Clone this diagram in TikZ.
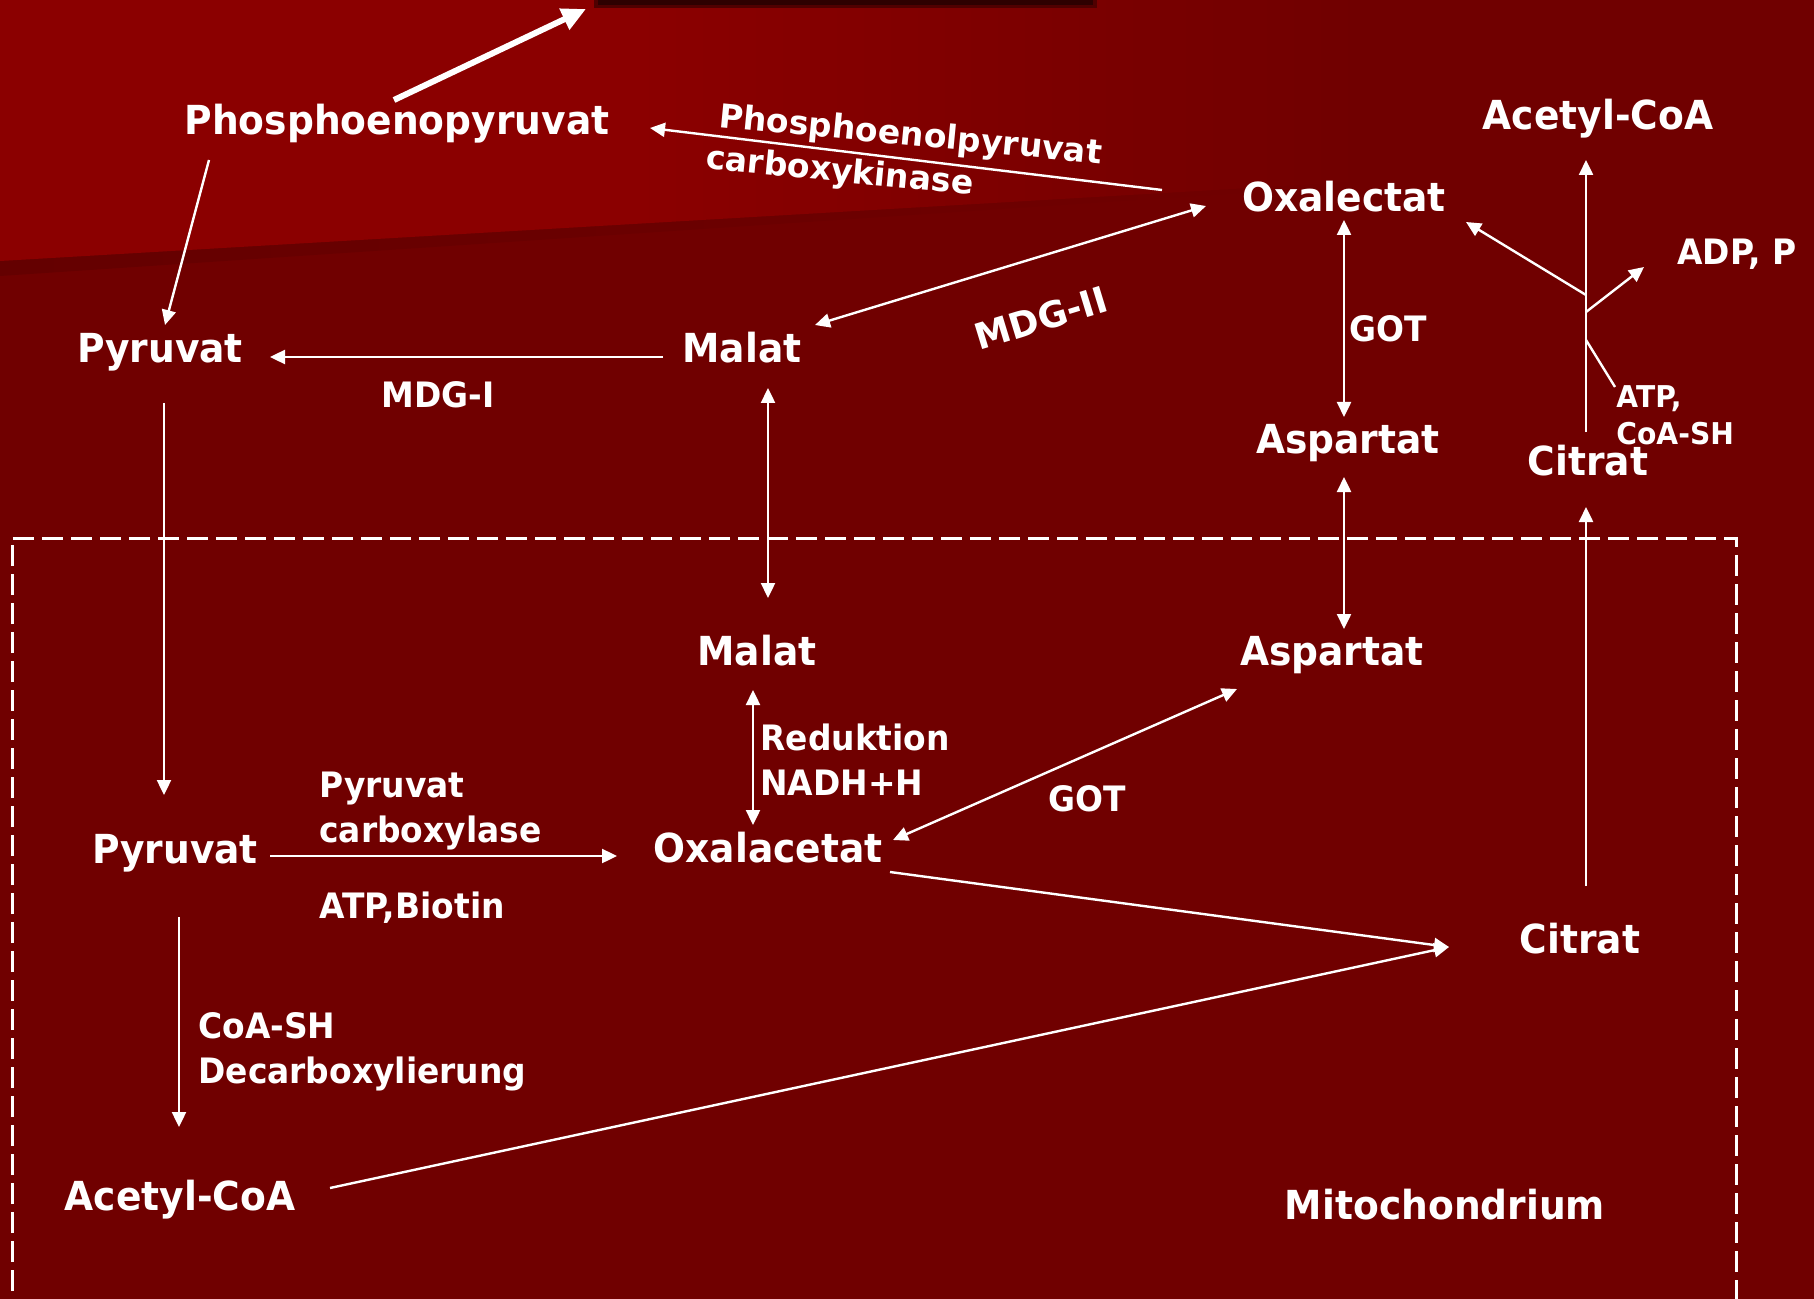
\documentclass[tikz,border=0pt]{standalone}
\usepackage{fontspec}
\newfontfamily\labfont{DejaVu Sans}[FakeStretch=0.94]
\newfontfamily\widefont{DejaVu Sans}
\usetikzlibrary{arrows.meta}

\definecolor{bgred}{RGB}{112,0,0}
\definecolor{hired}{RGB}{139,0,0}
\definecolor{shadowred}{RGB}{100,0,0}
\definecolor{barred}{RGB}{46,0,0}
\definecolor{barsoft}{RGB}{80,0,0}

% lighter wedge in the upper left, fading into the main background
\pgfdeclarehorizontalshading{topfade}{100bp}{color(0bp)=(hired); color(42.5bp)=(hired); color(62.5bp)=(bgred); color(100bp)=(bgred)}

\tikzset{
  species/.style={font=\labfont\bfseries\fontsize{20pt}{22.5pt}\selectfont, text=white, inner sep=0pt, anchor=base},
  enzyme/.style={font=\labfont\bfseries\fontsize{17.5pt}{22.5pt}\selectfont, text=white, inner sep=0pt, anchor=base west},
  cofactor/.style={font=\labfont\bfseries\fontsize{15pt}{18.5pt}\selectfont, text=white, inner sep=0pt, anchor=base west},
  slanted/.style={font=\widefont\bfseries\fontsize{16.5pt}{21.5pt}\selectfont, text=white, inner sep=0pt},
  flow/.style={draw=white, line width=1.2pt, -{Triangle[length=7.5pt,width=7pt]}},
  both/.style={draw=white, line width=1.2pt, {Triangle[length=7.5pt,width=7pt]}-{Triangle[length=7.5pt,width=7pt]}},
  plain/.style={draw=white, line width=1.2pt},
  bold arrow/.style={draw=white, line width=3pt, -{Triangle[length=12pt,width=11pt]}},
  membrane/.style={draw=white, line width=1.5pt, dash pattern=on 10.5pt off 4pt}
}

\begin{document}
\begin{tikzpicture}[x=0.5pt, y=-0.5pt]
\useasboundingbox (0,0) rectangle (1814,1299);

\begin{scope}
  \clip (0,0) rectangle (1814,1299);
  % background
  \fill[bgred] (0,0) rectangle (1814,1299);
  \shade[left color=shadowred, right color=bgred] (0,258) -- (1300,183) -- (1300,189) -- (0,276) -- cycle;
  \shade[shading=topfade] (0,0) -- (1814,0) -- (1814,155) -- (0,261) -- cycle;
  % dark bar at the upper edge
  \fill[barsoft] (594,0) rectangle (1097,8);
  \fill[barred] (598,0) rectangle (1093,5);
  % mitochondrial membrane
  \draw[membrane] (12,1320) -- (12,538) -- (1736,538) -- (1736,1320);
\end{scope}

% ---------------- cytosol ----------------
\node[species] (pep)  at (397,135) {Phosphoenopyruvat};
\node[species] (pyrc) at (160,363) {Pyruvat};
\node[species] (malc) at (742,363) {Malat};
\node[enzyme]  (mdgI) at (381,408) {MDG-I};
\node[species] (oxac) at (1344,212) {Oxalectat};
\node[species] (accc) at (1598,130) {Acetyl-CoA};
\node[enzyme]  (adp) at (1677,265) {ADP, P};
\node[enzyme]  (gotc) at (1349,342) {GOT};
\node[species] (aspc) at (1348,453) {Aspartat};
\node[cofactor] (atpc) at (1616,408) {\begin{tabular}[t]{@{}l@{}}ATP,\\CoA-SH\end{tabular}};
\node[species] (citc) at (1588,475) {Citrat};

\node[slanted, rotate=-5.5, anchor=base west] (pepck) at (718,127)
  {\begin{tabular}[t]{@{}l@{}}Phosphoenolpyruvat\\\hspace*{-4.5pt}carboxykinase\end{tabular}};
\node[slanted, rotate=17, font=\widefont\bfseries\fontsize{18pt}{20pt}\selectfont] (mdgII) at (1041,318) {MDG-II};

% ---------------- mitochondrion ----------------
\node[species] (malm) at (757,665) {Malat};
\node[species] (aspm) at (1332,665) {Aspartat};
\node[enzyme]  (red)  at (760,750) {\begin{tabular}[t]{@{}l@{}}Reduktion\\NADH+H\end{tabular}};
\node[enzyme]  (gotm) at (1048,811) {GOT};
\node[species] (oxam) at (768,862) {Oxalacetat};
\node[species] (pyrm) at (175,863) {Pyruvat};
\node[enzyme]  (pc)   at (319,797) {\begin{tabular}[t]{@{}l@{}}Pyruvat\\carboxylase\end{tabular}};
\node[enzyme]  (atpb) at (319,918) {ATP,Biotin};
\node[enzyme]  (decarb) at (198,1038) {\begin{tabular}[t]{@{}l@{}}CoA-SH\\Decarboxylierung\end{tabular}};
\node[species] (accm) at (180,1210) {Acetyl-CoA};
\node[species] (citm) at (1580,953) {Citrat};
\node[species] (mito) at (1445,1219) {Mitochondrium};

% ---------------- connector end points ----------------
\coordinate (pep-out)   at (394,100);
\coordinate (export)    at (586,9);
\coordinate (pep-s)     at (209,160);
\coordinate (pyrc-n)    at (165,325);
\coordinate (oxac-w)    at (1162,190);
\coordinate (pep-e)     at (650,128);
\coordinate (malc-ne)   at (815,325);
\coordinate (oxac-sw)   at (1206,206);
\coordinate (malc-w)    at (663,357);
\coordinate (pyrc-e)    at (270,357);
\coordinate (oxac-s)    at (1344,220);
\coordinate (aspc-n)    at (1344,417);
\coordinate (citc-n)    at (1586,432);
\coordinate (accc-s)    at (1586,160);
\coordinate (lyase)     at (1586,295);
\coordinate (oxac-se)   at (1466,222);
\coordinate (adp-src)   at (1586,312);
\coordinate (adp-w)     at (1644,267);
\coordinate (atp-src)   at (1586,340);
\coordinate (atpc-nw)   at (1615,387);
\coordinate (malc-s)    at (768,388);
\coordinate (malm-n)    at (768,598);
\coordinate (aspc-s)    at (1344,477);
\coordinate (aspm-n)    at (1344,629);
\coordinate (citm-n)    at (1586,886);
\coordinate (citc-s)    at (1586,507);
\coordinate (pyrc-s)    at (164,403);
\coordinate (pyrm-n)    at (164,795);
\coordinate (malm-s)    at (753,690);
\coordinate (oxam-n)    at (753,825);
\coordinate (oxam-ne)   at (893,840);
\coordinate (aspm-sw)   at (1237,689);
\coordinate (pyrm-e)    at (270,856);
\coordinate (oxam-w)    at (617,856);
\coordinate (pyrm-s)    at (179,917);
\coordinate (accm-n)    at (179,1127);
\coordinate (oxam-se)   at (890,872);
\coordinate (accm-e)    at (330,1188);
\coordinate (citm-w)    at (1449,947);

% ---------------- connectors ----------------
\draw[bold arrow] (pep-out) -- (export);
\draw[flow] (pep-s) -- (pyrc-n);
\draw[flow] (oxac-w) -- (pep-e);
\draw[both] (malc-ne) -- (oxac-sw);
\draw[flow] (malc-w) -- (pyrc-e);
\draw[both] (oxac-s) -- (aspc-n);
\draw[flow] (citc-n) -- (accc-s);
\draw[flow] (lyase) -- (oxac-se);
\draw[flow] (adp-src) -- (adp-w);
\draw[plain] (atp-src) -- (atpc-nw);
\draw[both] (malc-s) -- (malm-n);
\draw[both] (aspc-s) -- (aspm-n);
\draw[flow] (citm-n) -- (citc-s);
\draw[flow] (pyrc-s) -- (pyrm-n);
\draw[both] (malm-s) -- (oxam-n);
\draw[both] (oxam-ne) -- (aspm-sw);
\draw[flow] (pyrm-e) -- (oxam-w);
\draw[flow] (pyrm-s) -- (accm-n);
\draw[flow] (oxam-se) -- (citm-w);
\draw[flow] (accm-e) -- (citm-w);
\end{tikzpicture}
\end{document}
